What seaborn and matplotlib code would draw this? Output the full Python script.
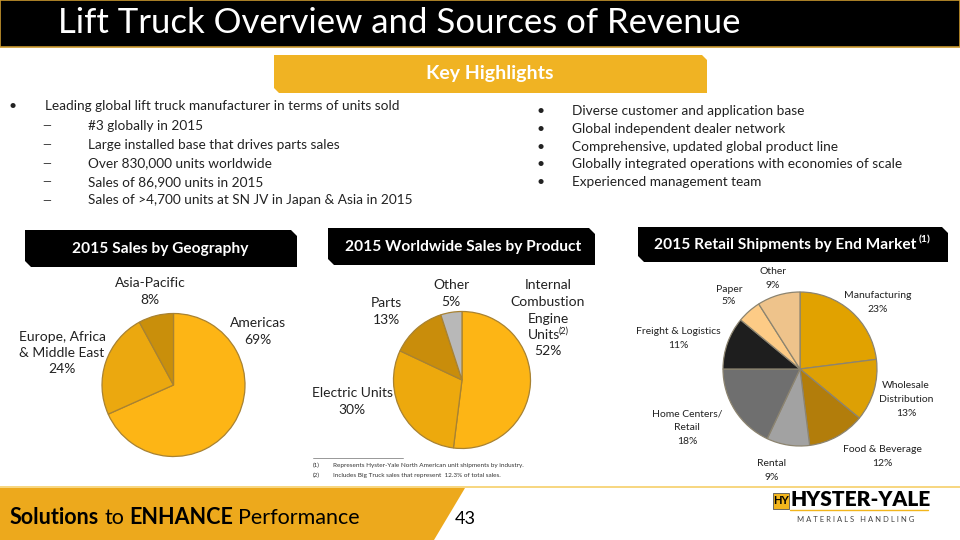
import numpy as np
import pandas as pd
import seaborn as sns
import matplotlib.pyplot as plt
from matplotlib.patches import Polygon, Rectangle

# Dane wykresow
geo_labels = ['Americas', 'Europe, Africa & Middle East', 'Asia-Pacific']
geo_values = [69, 24, 8]
geo_colors = ['#FDB515', '#EBA80F', '#C98F0B']

prod_labels = ['Internal Combustion Engine Units', 'Electric Units', 'Parts', 'Other']
prod_values = [52, 30, 13, 5]
prod_colors = ['#FDB515', '#EDA90D', '#C98D0B', '#B8B8B8']

market_labels = ['Manufacturing', 'Wholesale Distribution', 'Food & Beverage', 'Rental',
                 'Home Centers/ Retail', 'Freight & Logistics', 'Paper', 'Other']
market_values = [23, 13, 12, 9, 18, 11, 5, 9]
market_colors = ['#E1A200', '#DDA004', '#B27D0B', '#A2A2A2', '#6F6F6F', '#1E1E1E',
                 '#FDCB86', '#EEC38B']

left_bullet = 'Leading global lift truck manufacturer in terms of units sold'
left_sub = ['#3 globally in 2015', 'Large installed base that drives parts sales',
            'Over 830,000 units worldwide', 'Sales of 86,900 units in 2015',
            'Sales of >4,700 units at SN JV in Japan & Asia in 2015']
right_bullets = ['Diverse customer and application base', 'Global independent dealer network',
                 'Comprehensive, updated global product line',
                 'Globally integrated operations with economies of scale',
                 'Experienced management team']

sns.set_style('white')
plt.rcParams['font.family'] = ['Lato', 'DejaVu Sans']

W, H = 960, 540
fig = plt.figure(figsize=(9.6, 5.4), dpi=100)
ax = fig.add_axes([0, 0, 1, 1])


def Y(y):
    # piksele od gory -> wspolrzedne osi
    return H - y


def chamfer_box(x0, y0, x1, y1, c, color, z=2):
    pts = [(x0, Y(y0)), (x1 - c, Y(y0)), (x1, Y(y0 + c)), (x1, Y(y1)),
           (x0 + c, Y(y1)), (x0, Y(y1 - c))]
    ax.add_patch(Polygon(pts, closed=True, facecolor=color, edgecolor='none', zorder=z))


def txt(x, y, s, size=10, color='#222222', ha='center', weight='normal', **kw):
    return ax.text(x, Y(y), s, fontsize=size, color=color, ha=ha, va='center',
                   fontweight=weight, zorder=10, **kw)


def pie(values, colors, cx, cy, r, edge):
    ax.pie(values, colors=colors, startangle=90, counterclock=False,
           center=(cx, Y(cy)), radius=r, frame=True,
           wedgeprops=dict(edgecolor=edge, linewidth=0.9))


# Pasek tytulowy
ax.add_patch(Rectangle((0, Y(47)), W, 47, facecolor='black', edgecolor='#C9982E',
                       linewidth=1.2, zorder=1))
txt(58, 23, 'Lift Truck Overview and Sources of Revenue', size=25, color='white', ha='left')

# Key Highlights
chamfer_box(274, 55, 707, 93, 5, '#F0B323')
txt(490, 74, 'Key Highlights', size=14, color='white', weight='bold')

# Punkty
bsize = 9.8
txt(9, 106, '•', size=10, ha='left')
txt(45, 106, left_bullet, size=bsize, ha='left')
for i, s in enumerate(left_sub):
    yy = 126 + i * 18.6
    txt(42, yy, '—', size=8, ha='left')
    txt(88, yy, s, size=bsize, ha='left')
for i, s in enumerate(right_bullets):
    yy = 111 + i * 17.8
    txt(537, yy, '•', size=10, ha='left')
    txt(572, yy, s, size=bsize, ha='left')

# Naglowki sekcji
hs = 11.2
chamfer_box(25, 230, 297, 267, 6, 'black')
txt(160, 249, '2015 Sales by Geography', size=hs, color='white', weight='bold')
chamfer_box(328, 228, 595, 265, 6, 'black')
txt(463, 247, '2015 Worldwide Sales by Product', size=hs, color='white', weight='bold')
chamfer_box(638, 227, 948, 262, 6, 'black')
txt(785, 245, '2015 Retail Shipments by End Market', size=hs, color='white', weight='bold')
txt(919, 240, '(1)', size=7.5, color='white', weight='bold', ha='left')

# Wykresy kolowe
pie(geo_values, geo_colors, 173.5, 385, 71.5, '#A88232')
pie(prod_values, prod_colors, 462, 380, 68.5, '#A88232')
pie(market_values, market_colors, 800, 369, 77, '#8C8470')

ax.set_xlim(0, W)
ax.set_ylim(0, H)
ax.set_aspect('auto')
ax.axis('off')

# Etykiety - geografia
txt(150, 283, 'Asia-Pacific', size=10)
txt(150, 300, '8%', size=10)
txt(258, 323, 'Americas', size=10)
txt(258, 340, '69%', size=10)
txt(62, 337, 'Europe, Africa', size=10)
txt(62, 353, '& Middle East', size=10)
txt(62, 369, '24%', size=10)

# Etykiety - produkt
txt(451, 285, 'Other', size=10)
txt(451, 302, '5%', size=10)
txt(386, 303, 'Parts', size=10)
txt(386, 320, '13%', size=10)
txt(352, 393, 'Electric Units', size=10)
txt(352, 410, '30%', size=10)
for s, yy in zip(['Internal', 'Combustion', 'Engine'], [285, 302, 319]):
    txt(548, yy, s, size=10)
txt(544, 335, 'Units', size=10)
txt(559, 331, '(2)', size=6.5, ha='left')
txt(548, 351, '52%', size=10)

# Etykiety - rynek
m8 = 7.5
txt(773, 272, 'Other', size=m8)
txt(773, 285, '9%', size=m8)
txt(729, 289, 'Paper', size=m8)
txt(729, 302, '5%', size=m8)
txt(878, 295, 'Manufacturing', size=m8)
txt(878, 309, '23%', size=m8)
txt(678, 332, 'Freight & Logistics', size=m8)
txt(678, 346, '11%', size=m8)
txt(906, 386, 'Wholesale', size=m8)
txt(906, 399, 'Distribution', size=m8)
txt(906, 413, '13%', size=m8)
txt(687, 414, 'Home Centers/', size=m8)
txt(687, 428, 'Retail', size=m8)
txt(687, 441, '18%', size=m8)
txt(882, 450, 'Food & Beverage', size=m8)
txt(882, 463, '12%', size=m8)
txt(772, 464, 'Rental', size=m8)
txt(772, 477, '9%', size=m8)

# Przypisy
ax.plot([313, 403], [Y(458), Y(458)], color='#888888', lw=0.6, zorder=5)
txt(313, 465, '(1)', size=4.6, ha='left', color='#333333')
txt(333, 465, 'Represents Hyster-Yale North American unit shipments by industry.',
    size=4.6, ha='left', color='#333333')
txt(313, 475, '(2)', size=4.6, ha='left', color='#333333')
txt(333, 475, 'Includes Big Truck sales that represent  12.3% of total sales.',
    size=4.6, ha='left', color='#333333')

# Dolny pasek
ax.plot([0, W], [Y(486.5), Y(486.5)], color='#F6CF6A', lw=1.2, zorder=3)
ax.add_patch(Polygon([(0, Y(488)), (465, Y(488)), (434, Y(540)), (0, Y(540))],
                     closed=True, facecolor='#EDA91C', edgecolor='none', zorder=2))
x = 10
renderer = fig.canvas.get_renderer()
for s, w in [('Solutions', 'bold'), ('to', 'normal'), ('ENHANCE', 'bold'), ('Performance', 'normal')]:
    t = ax.text(x, Y(518), s, fontsize=15.5, color='black', fontweight=w, va='center',
                ha='left', zorder=10)
    bb = t.get_window_extent(renderer=renderer)
    x = bb.x1 + 5
txt(455, 519, '43', size=13, color='black', ha='left')

# Logo
ax.add_patch(Rectangle((773, Y(509)), 16, 16, facecolor='#F2B51C', edgecolor='#555555', lw=0.6, zorder=3))
txt(781, 501, 'HY', size=8, color='black', weight='bold')
txt(790, 499, 'HYSTER-YALE', size=15, color='black', weight='heavy', ha='left')
ax.plot([790, 928], [Y(510), Y(510)], color='#F2B51C', lw=1, zorder=3)
txt(797, 520, 'M A T E R I A L S   H A N D L I N G', size=5.5, color='#444444', ha='left')

fig.savefig('out.png', dpi=100)
